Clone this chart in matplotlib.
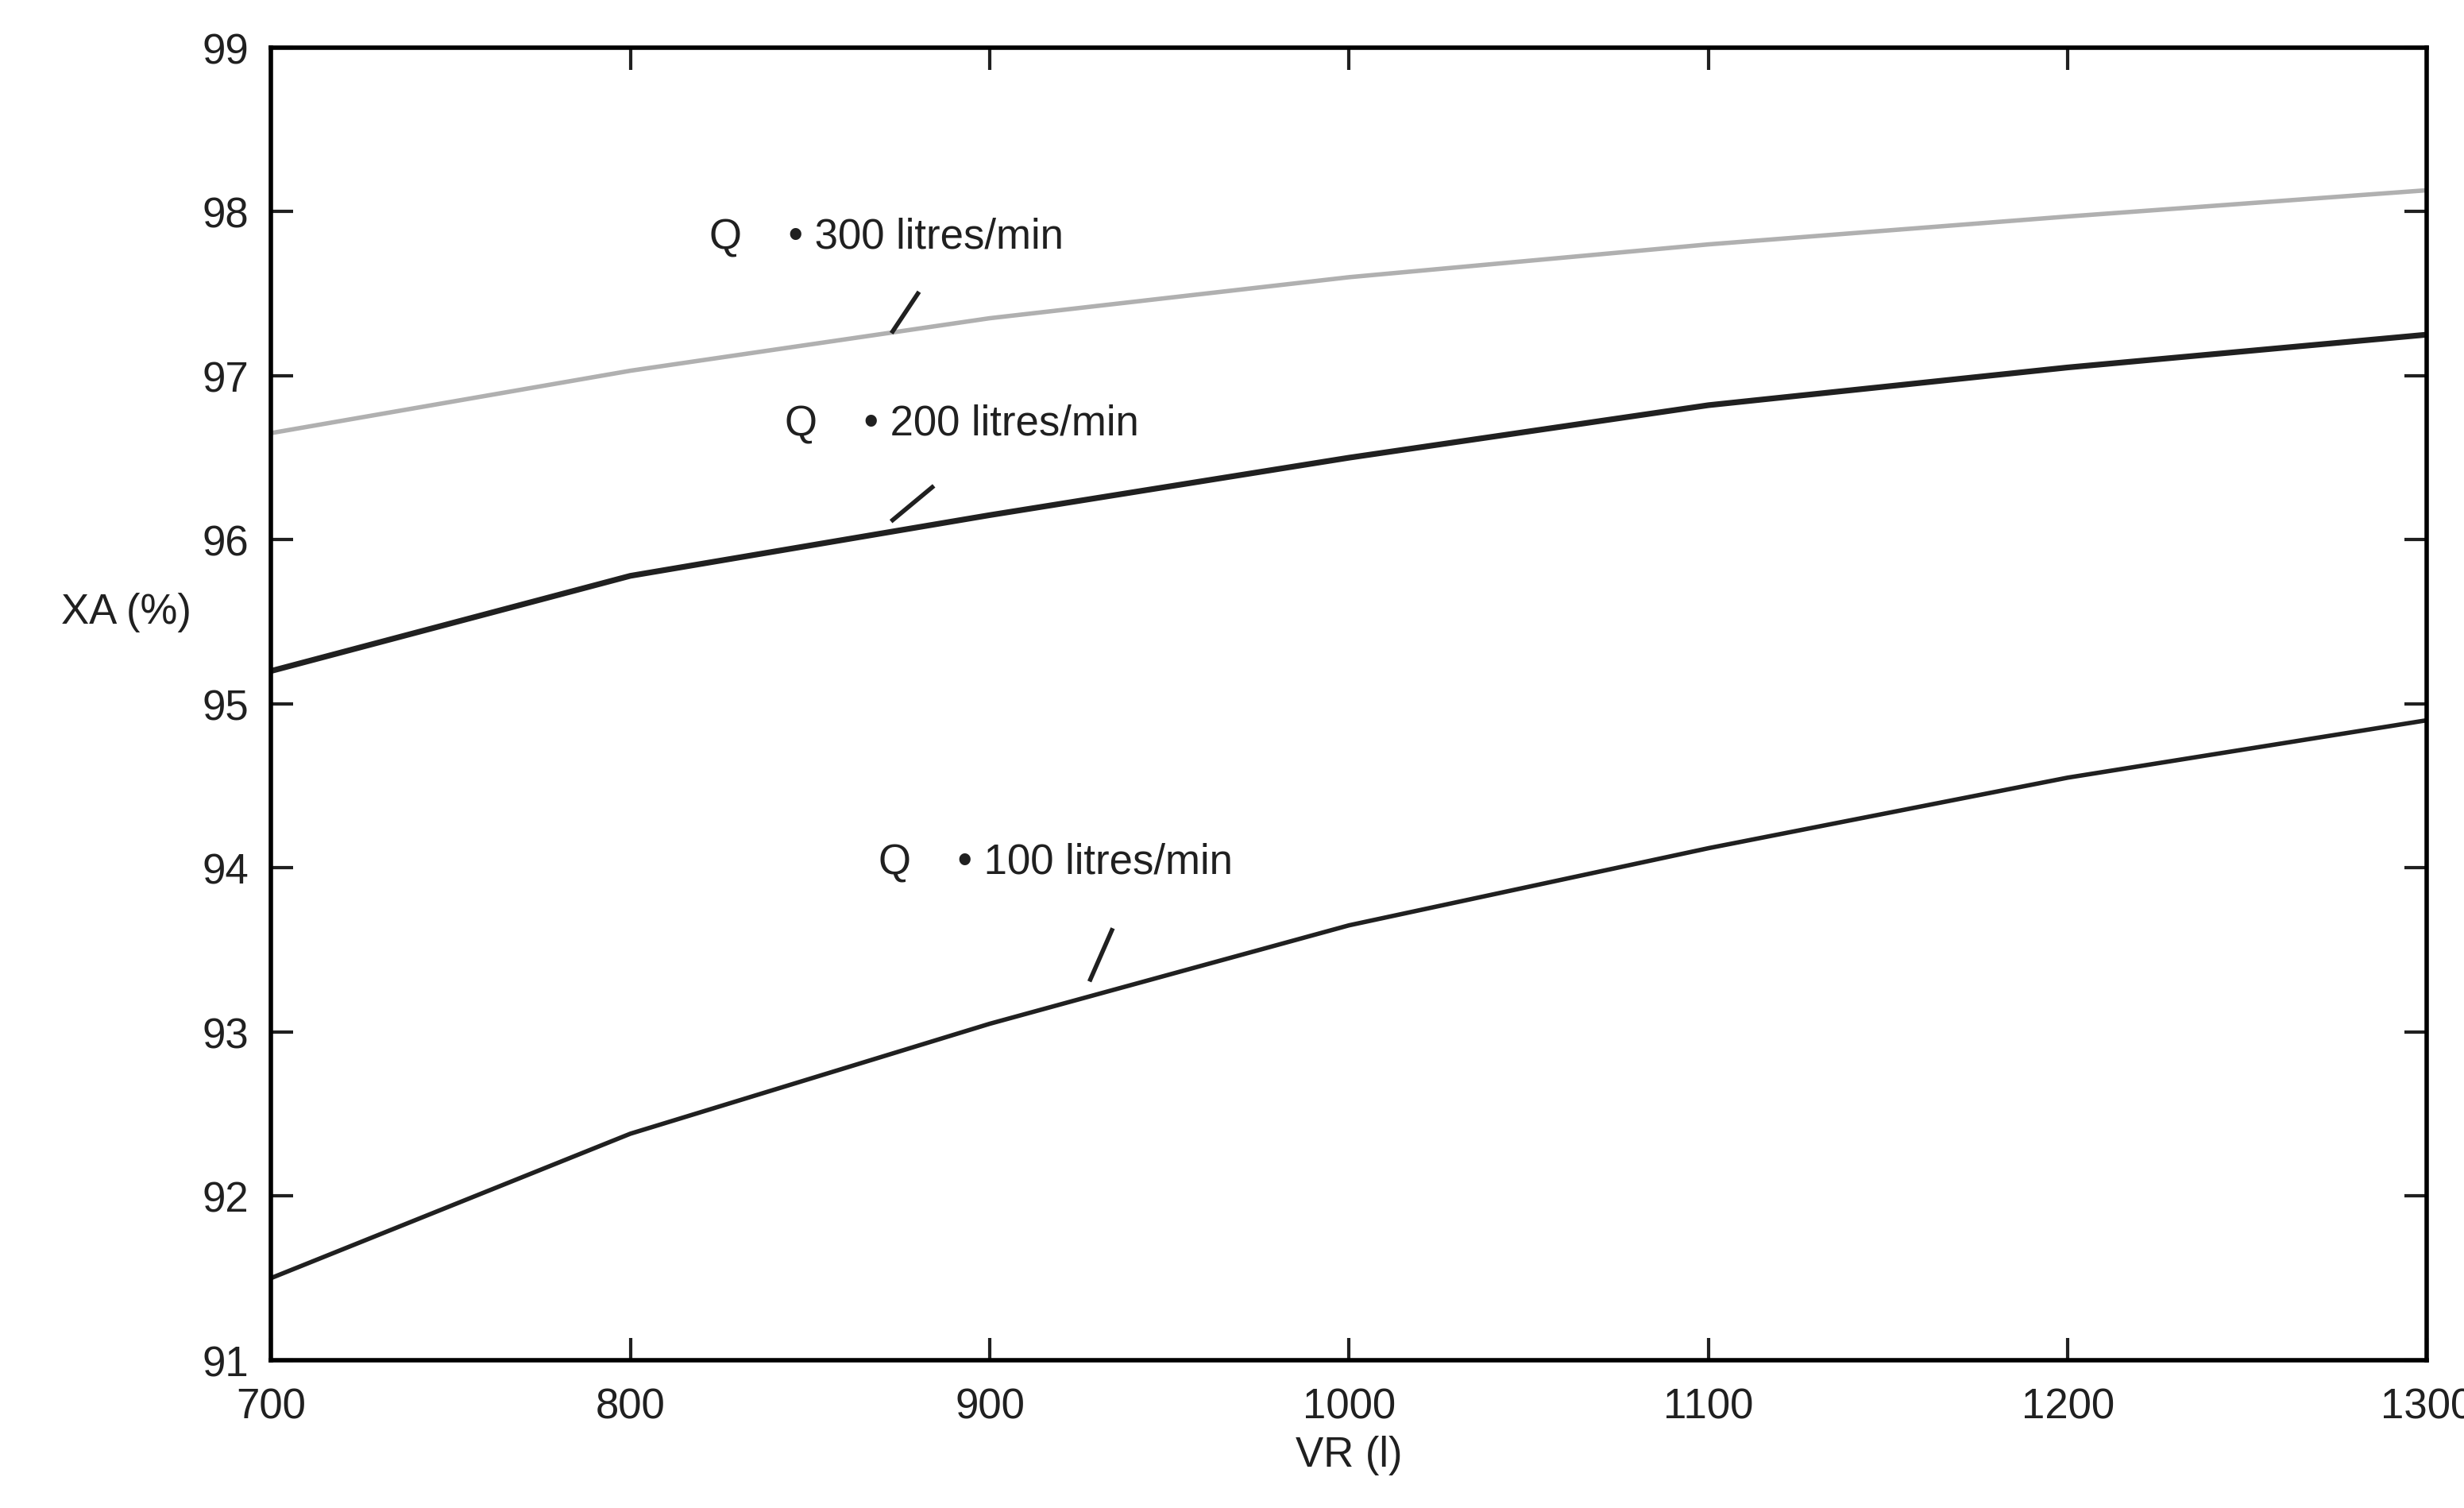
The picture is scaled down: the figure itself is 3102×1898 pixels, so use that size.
import numpy as np
import matplotlib.pyplot as plt

plt.rcParams['font.family'] = ['Liberation Sans', 'DejaVu Sans']

vr = [700, 800, 900, 1000, 1100, 1200, 1300]
xa_q300 = [96.65, 97.03, 97.35, 97.60, 97.80, 97.97, 98.13]
xa_q200 = [95.20, 95.78, 96.15, 96.50, 96.82, 97.05, 97.25]
xa_q100 = [91.50, 92.38, 93.05, 93.65, 94.12, 94.55, 94.90]

fig = plt.figure(figsize=(15.51, 9.495), dpi=200)
ax = fig.add_axes([0.110, 0.098, 0.875, 0.870])

ax.plot(vr, xa_q300, color='#b0b0b0', lw=2)
ax.plot(vr, xa_q200, color='#202020', lw=2.6)
ax.plot(vr, xa_q100, color='#202020', lw=2)

# labels with short leader lines
labels = [(822, 97.85, 'Q    \u2022 300 litres/min', (873, 97.27), (880, 97.5)),
          (843, 96.71, 'Q    \u2022 200 litres/min', (873, 96.12), (884, 96.32)),
          (869, 94.04, 'Q    \u2022 100 litres/min', (928, 93.32), (934, 93.62))]
for x, y, txt, p0, p1 in labels:
    ax.text(x, y, txt, fontsize=19, color='#202020', va='center')
    ax.plot([p0[0], p1[0]], [p0[1], p1[1]], color='#202020', lw=2)

ax.set_xlim(700, 1300)
ax.set_ylim(91, 99)
ax.set_xticks(range(700, 1301, 100))
ax.set_yticks(range(91, 100))
ax.tick_params(direction='in', top=True, right=True, length=10, width=1.5,
               labelsize=19, colors='#202020')
ax.tick_params(axis='x', pad=12)
ax.tick_params(axis='y', pad=10)
for s in ax.spines.values():
    s.set_linewidth(2)
ax.set_xlabel('VR (l)', fontsize=19, color='#202020', labelpad=4)
ax.set_ylabel('XA (%)', fontsize=19, color='#202020', rotation=0, labelpad=0)
ax.yaxis.set_label_coords(-0.067, 0.555)

fig.savefig('out.png')
